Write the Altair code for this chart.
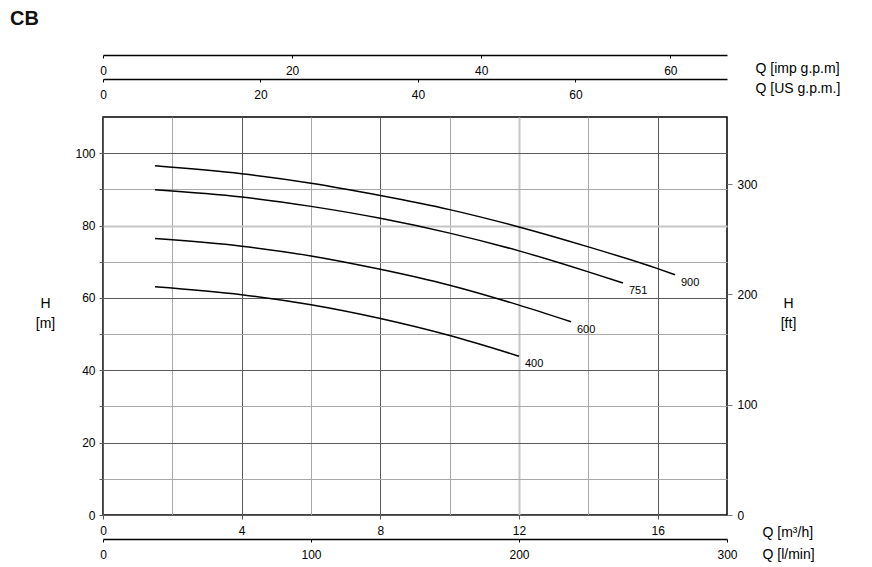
import altair as alt
import pandas as pd

FONT = "Liberation Sans"

# ---- data ----
title_text = "CB"
curve_names = ["900", "751", "600", "400"]
q_900 = [1.5, 4, 6, 8, 10, 12, 14, 16, 16.5]
h_900 = [96.5, 94.3, 91.7, 88.3, 84.4, 79.6, 74.1, 68.1, 66.4]
q_751 = [1.5, 4, 6, 8, 10, 12, 14, 15]
h_751 = [89.9, 87.9, 85.3, 82.0, 77.9, 73.0, 67.2, 64.1]
q_600 = [1.5, 4, 6, 8, 10, 12, 13.5]
h_600 = [76.4, 74.3, 71.6, 67.9, 63.5, 58.0, 53.4]
q_400 = [1.5, 4, 6, 8, 10, 12]
h_400 = [63.1, 60.9, 58.1, 54.3, 49.6, 43.9]

q_ticks = [0, 2, 4, 6, 8, 10, 12, 14, 16]
h_ticks = [0, 10, 20, 30, 40, 50, 60, 70, 80, 90, 100]
ft_ticks = [0, 100, 200, 300]
lmin_ticks = [0, 100, 200, 300]
imp_ticks = [0, 20, 40, 60]
us_ticks = [0, 20, 40, 60]

Q_MAX = 18.0          # m3/h
H_MAX = 110.0         # m
M_TO_FT = 3.28084
LMIN_MAX = Q_MAX * 1000 / 60
IMP_MAX = LMIN_MAX / 4.54609
US_MAX = LMIN_MAX / 3.78541

rows = []
for name, qs, hs in zip(curve_names, [q_900, q_751, q_600, q_400], [h_900, h_751, h_600, h_400]):
    for i, (q, h) in enumerate(zip(qs, hs)):
        rows.append({"curve": name, "q": q, "h": h, "order": i})
df = pd.DataFrame(rows)
ends = df.groupby("curve").tail(1)

W, H = 624, 398

xs = alt.Scale(domain=[0, Q_MAX], nice=False, zero=False)
ys = alt.Scale(domain=[0, H_MAX], nice=False, zero=False)

x_grid_color = {"condition": [{"test": "datum.value == 12", "value": "#c6c6c6"},
                              {"test": "datum.value % 4 == 0", "value": "#5a5a5a"}],
                "value": "#a8a8a8"}
x_grid_width = {"condition": {"test": "datum.value == 12", "value": 2}, "value": 1}
x_tick_color = {"condition": {"test": "datum.value % 4 == 0", "value": "#5a5a5a"}, "value": "transparent"}

y_grid_color = {"condition": [{"test": "datum.value == 80", "value": "#c6c6c6"},
                              {"test": "datum.value % 20 == 0", "value": "#5a5a5a"}],
                "value": "#a8a8a8"}
y_grid_width = {"condition": {"test": "datum.value == 80", "value": 2}, "value": 1}

common = dict(labelFont=FONT, titleFont=FONT, labelColor="black", titleColor="black",
              labelFontSize=12, titleFontSize=14, titleFontWeight="normal",
              labelFlush=False, labelOverlap=False)

x_axis = alt.Axis(orient="bottom", values=q_ticks,
                  labelExpr="datum.value % 4 == 0 ? datum.label : ''",
                  grid=True, gridColor=x_grid_color, gridWidth=x_grid_width,
                  tickColor=x_tick_color, tickSize=4, labelPadding=6, domain=False,
                  title="Q [m³/h]", titleX=659, titleY=17, titleAlign="left",
                  titleBaseline="middle", **common)
y_axis = alt.Axis(orient="left", values=h_ticks,
                  labelExpr="datum.value % 20 == 0 ? datum.label : ''",
                  grid=True, gridColor=y_grid_color, gridWidth=y_grid_width,
                  tickColor="#5a5a5a", tickSize=4, labelPadding=4, domain=False,
                  title=["H", "[m]"], titleAngle=0, titleX=-58, titleY=186,
                  titleAlign="center", titleBaseline="middle", titleLineHeight=20,
                  **common)

curves = alt.Chart(df).mark_line(color="black", strokeWidth=1.5, interpolate="monotone").encode(
    x=alt.X("q:Q", scale=xs, axis=x_axis),
    y=alt.Y("h:Q", scale=ys, axis=y_axis),
    detail="curve:N",
    order="order:Q",
)

labels = alt.Chart(ends).mark_text(align="left", baseline="middle", dx=6, dy=8,
                                   fontSize=11, font=FONT, color="black").encode(
    x=alt.X("q:Q", scale=xs, axis=None),
    y=alt.Y("h:Q", scale=ys, axis=None),
    text="curve:N",
)

ft_layer = alt.Chart(df).transform_calculate(h_ft=f"datum.h * {M_TO_FT}").mark_point(opacity=0).encode(
    y=alt.Y("h_ft:Q", scale=alt.Scale(domain=[0, H_MAX * M_TO_FT], nice=False, zero=False),
            axis=alt.Axis(orient="right", values=ft_ticks, grid=False, domain=False,
                          tickColor="#777", tickSize=5, labelPadding=5,
                          title=["H", "[ft]"], titleAngle=0, titleX=61, titleY=186,
                          titleAlign="center", titleBaseline="middle", titleLineHeight=20,
                          **common)),
)


def q_axis_layer(field, factor, dmax, ticks, offset, title, title_y, pad):
    return alt.Chart(df).transform_calculate(**{field: f"datum.q * {factor}"}).mark_point(opacity=0).encode(
        x=alt.X(f"{field}:Q", scale=alt.Scale(domain=[0, dmax], nice=False, zero=False),
                axis=alt.Axis(orient="bottom", offset=offset, values=ticks, grid=False,
                              domain=True, domainColor="black", domainWidth=1.5,
                              tickColor="black", tickSize=3, labelPadding=pad,
                              title=title, titleX=652 if offset < 0 else 659, titleY=title_y,
                              titleAlign="left", titleBaseline="middle", **common)),
    )


lmin_layer = q_axis_layer("q_lmin", 1000 / 60, LMIN_MAX, lmin_ticks, 24, "Q [l/min]", 15, 7)
imp_layer = q_axis_layer("q_imp", 1000 / 60 / 4.54609, IMP_MAX, imp_ticks, -460, "Q [imp g.p.m]", 13, 7)
us_layer = q_axis_layer("q_us", 1000 / 60 / 3.78541, US_MAX, us_ticks, -436, "Q [US g.p.m.]", 9, 7)

title_layer = alt.Chart(pd.DataFrame({"t": [title_text]})).mark_text(
    align="left", baseline="middle", fontSize=20, fontWeight="bold", font=FONT, color="#111"
).encode(x=alt.value(-93), y=alt.value(-98), text="t:N")

chart = alt.layer(curves, labels, ft_layer, lmin_layer, imp_layer, us_layer, title_layer).resolve_scale(
    x="independent", y="independent"
).properties(
    width=W, height=H,
    autosize=alt.AutoSizeParams(type="none"),
    padding={"left": 95, "top": 109, "right": 125, "bottom": 50},
).configure(font=FONT).configure_view(stroke="black", strokeWidth=1.5)

chart.save("out.html", embed_options={"renderer": "svg", "actions": False})
